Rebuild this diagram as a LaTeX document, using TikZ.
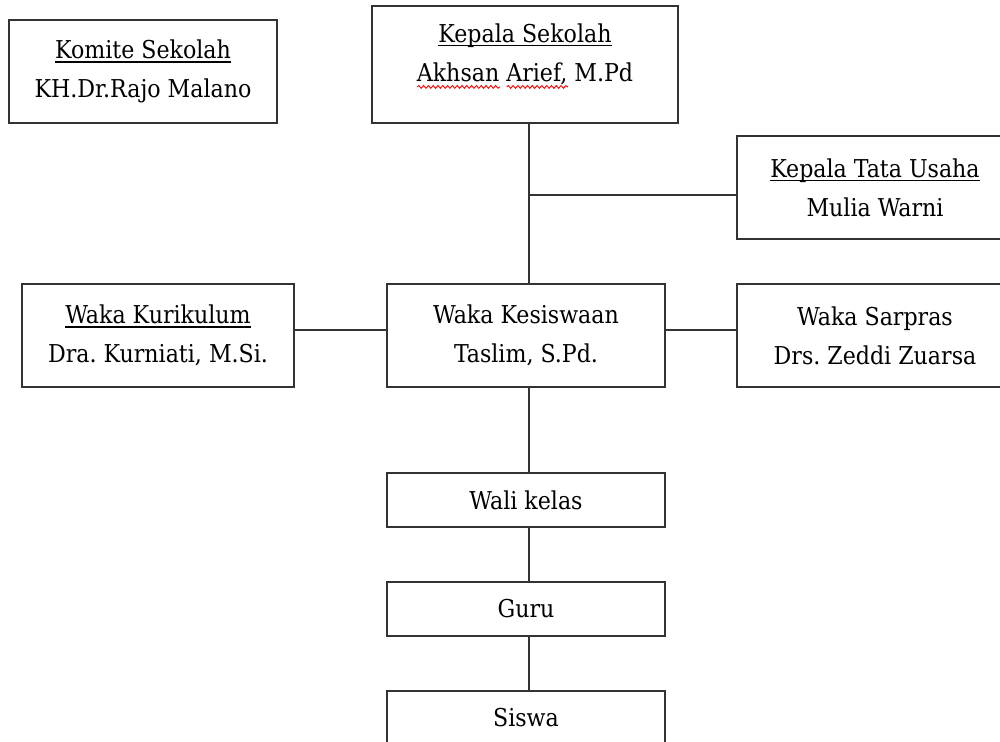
\documentclass[tikz,border=0pt]{standalone}
\usepackage{fontspec}
\setmainfont{DejaVu Serif Condensed}
\usepackage{xcolor}
\usetikzlibrary{positioning, decorations.pathmorphing}
\frenchspacing

\newlength\markwd
\newcommand\ulinetext[1]{\settowidth{\markwd}{#1}\rlap{\rule[-2pt]{\markwd}{0.6pt}}#1}
\newcommand\spellwave[1]{\settowidth{\markwd}{#1}\rlap{\tikz[baseline=0pt, x=1pt, y=1pt]
    \draw[red, line width=0.45pt, decorate, decoration={snake, amplitude=0.7pt, segment length=2.4pt}] (0,-2.8) -- (\markwd,-2.8);}#1}

\begin{document}
\begin{tikzpicture}[x=0.5pt, y=-0.5pt, node distance=26.5pt,
    every node/.style={font=\fontsize{12.3}{19.5}\selectfont},
    unit/.style={draw=black!80, line width=1pt, align=center, inner sep=0pt, minimum height=51.5pt},
    small/.style={unit, minimum width=139pt, minimum height=27pt},
    link/.style={draw=black!80, line width=1pt}]
    \useasboundingbox (0,0) rectangle (1000,742);
    \clip (0,0) rectangle (1000,742);

    \node[unit, minimum width=134pt] (komite) at (143,71.5) {\ulinetext{Komite Sekolah}\\KH.Dr.Rajo Malano};
    \node[unit, minimum width=153pt, minimum height=58.5pt] (kepsek) at (525,64.5)
        {\ulinetext{Kepala Sekolah}\\\spellwave{Akhsan} \spellwave{Arief,} M.Pd\rule[-12pt]{0pt}{1pt}};
    \node[unit, minimum width=138pt] (ktu) at (875,187.5) {\ulinetext{Kepala Tata Usaha}\\Mulia Warni};
    \node[unit, minimum width=136pt] (kurikulum) at (158,335.5) {\ulinetext{Waka Kurikulum}\\Dra. Kurniati, M.Si.};
    \node[unit, minimum width=139pt] (kesiswaan) at (526,335.5) {Waka Kesiswaan\\Taslim, S.Pd.};
    \node[unit, minimum width=138pt] (sarpras) at (875,335.5) {Waka Sarpras\\Drs. Zeddi Zuarsa};
    \node[small, below=42pt of kesiswaan] (walikelas) {Wali kelas};
    \node[small, below=of walikelas] (guru) {Guru};
    \node[small, below=of guru] (siswa) {Siswa};

    % garis komando
    \coordinate (spine) at ([xshift=2pt]kepsek.south);
    \draw[link] (spine) -- (spine |- kesiswaan.north);
    \draw[link] ([yshift=-3.75pt]ktu.west) -- ([yshift=-3.75pt]ktu.west -| spine);
    \draw[link] ([yshift=2.75pt]kurikulum.east) -- ([yshift=2.75pt]kesiswaan.west);
    \draw[link] ([yshift=2.75pt]kesiswaan.east) -- ([yshift=2.75pt]sarpras.west);
    \draw[link] ([xshift=1.5pt]kesiswaan.south) -- ([xshift=1.5pt]walikelas.north);
    \draw[link] ([xshift=1.5pt]walikelas.south) -- ([xshift=1.5pt]guru.north);
    \draw[link] ([xshift=1.5pt]guru.south) -- ([xshift=1.5pt]siswa.north);
\end{tikzpicture}
\end{document}
